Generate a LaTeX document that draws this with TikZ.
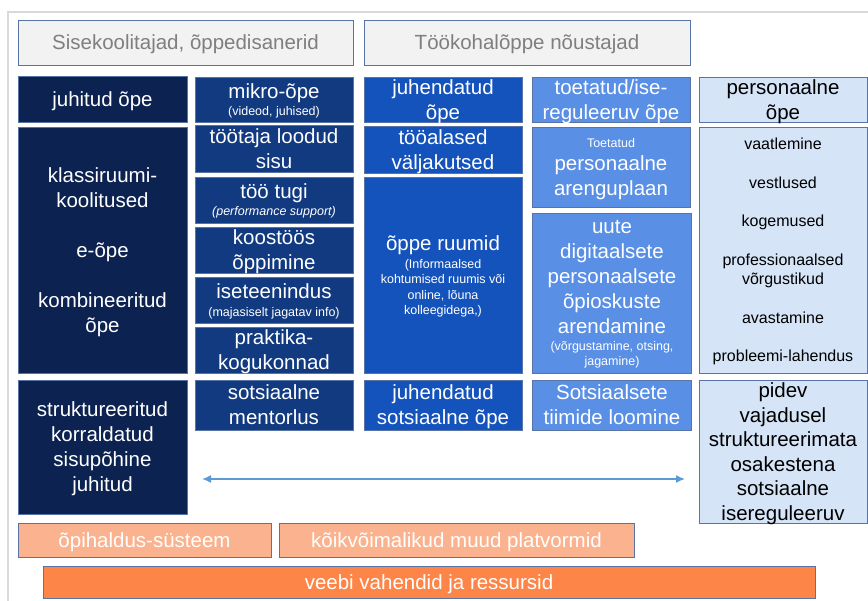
\documentclass[tikz,border=0pt]{standalone}
\usepackage{fontspec}
\setmainfont{Liberation Sans}
\usetikzlibrary{arrows.meta}

\definecolor{navy}{HTML}{0C2250}
\definecolor{colB}{HTML}{123A80}
\definecolor{colC}{HTML}{1553BC}
\definecolor{colD}{HTML}{5A8FE6}
\definecolor{colE}{HTML}{D6E4F8}
\definecolor{peach}{HTML}{FBB28E}
\definecolor{orangebar}{HTML}{FD8547}
\definecolor{edge}{HTML}{5874A6}
\definecolor{arrowblue}{HTML}{5B9BD5}
\definecolor{hdrfill}{HTML}{F2F2F2}
\definecolor{hdrtext}{HTML}{7F7F7F}
\definecolor{framegray}{HTML}{D9D9D9}

\newcommand\smalltxt{\fontsize{12.5}{15}\selectfont}

\begin{document}
\begin{tikzpicture}[x=1pt,y=-1pt,
  sz/.style 2 args={minimum width=#1pt, minimum height=#2pt},
  cell/.style={draw=edge, line width=0.8pt, inner sep=0pt, align=center,
    text depth=-3pt, font=\fontsize{20.5}{25}\selectfont},
  navycell/.style={cell, fill=navy, text=white},
  bcell/.style={cell, fill=colB, text=white},
  ccell/.style={cell, fill=colC, text=white},
  dcell/.style={cell, fill=colD, text=white},
  ecell/.style={cell, fill=colE, text=black},
  hdr/.style={cell, fill=hdrfill, text=hdrtext},
  platform/.style={cell, fill=peach, text=white},
  webbar/.style={cell, fill=orangebar, text=white},
  spanarrow/.style={draw=arrowblue, line width=1.5pt,
    {Latex[length=9pt,width=8pt]}-{Latex[length=9pt,width=8pt]}},
  frameline/.style={draw=framegray, line width=1.5pt}
]
\useasboundingbox (0,0) rectangle (868,601);

% outer frame
\draw[frameline] (8,605) -- (8,12) -- (872,12);

% headers
\node[hdr, sz={335}{45}] (hA) at (185.5,42.5) {Sisekoolitajad, õppedisanerid};
\node[hdr, sz={326}{45}] (hB) at (527,42.5) {Töökohalõppe nõustajad};

% column 1
\node[navycell, sz={169}{46}] (juhitud) at (102.5,99) {juhitud õpe};
\node[navycell, sz={169}{246}] (klass) at (102.5,250)
  {klassiruumi-\\koolitused\\[25pt]e-õpe\\[25pt]kombineeritud\\õpe};
\node[navycell, sz={169}{134}] (strukt) at (102.5,447)
  {struktureeritud\\korraldatud\\sisupõhine\\juhitud};

% column 2
\node[bcell, sz={158}{45}] (mikro) at (274,99.5)
  {mikro-õpe\\[-8pt]{\smalltxt (videod, juhised)}};
\node[bcell, sz={158}{47}] (tootaja) at (274,148.5) {töötaja loodud\\sisu};
\node[bcell, sz={158}{46}] (tugi) at (274,200)
  {töö tugi\\[-8pt]{\smalltxt\itshape (performance support)}};
\node[bcell, sz={158}{46}] (koostoo) at (274,250) {koostöös\\õppimine};
\node[bcell, sz={158}{46}] (isetee) at (274,300)
  {iseteenindus\\[-7pt]{\smalltxt (majasiselt jagatav info)}};
\node[bcell, sz={158}{46}] (praktika) at (274,350) {praktika-\\kogukonnad};
\node[bcell, sz={158}{50}] (mentor) at (274,405) {sotsiaalne\\mentorlus};

% column 3
\node[ccell, sz={158}{45}] (juhend) at (443,99.5) {juhendatud\\õpe};
\node[ccell, sz={158}{47}] (valjak) at (443,149.5) {tööalased\\väljakutsed};
\node[ccell, sz={158}{196}] (ruumid) at (443,275)
  {õppe ruumid\\[-7pt]{\smalltxt (Informaalsed}\\[-9.5pt]{\smalltxt kohtumised ruumis või}\\[-9.5pt]{\smalltxt online, lõuna}\\[-9.5pt]{\smalltxt kolleegidega,)}};
\node[ccell, sz={158}{50}] (jsots) at (443,405) {juhendatud\\sotsiaalne õpe};

% column 4
\node[dcell, sz={158}{45}] (toet) at (611,99.5) {toetatud/ise-\\reguleeruv õpe};
\node[dcell, sz={158}{80}] (arengu) at (611,167)
  {{\smalltxt Toetatud}\\[-2pt]personaalne\\arenguplaan};
\node[dcell, sz={159}{160}] (uute) at (612,293)
  {uute\\digitaalsete\\personaalsete\\õpioskuste\\arendamine\\[-8pt]{\smalltxt (võrgustamine, otsing,}\\[-10pt]{\smalltxt jagamine)}};
\node[dcell, sz={159}{50}] (tiimid) at (612,405) {Sotsiaalsete\\tiimide loomine};

% column 5
\node[ecell, sz={168}{45}] (perso) at (783,99.5) {personaalne\\õpe};
\node[ecell, sz={168}{246}, font=\fontsize{16}{19.3}\selectfont] (viisid) at (783,250)
  {vaatlemine\\[19.3pt]vestlused\\[19.3pt]kogemused\\[19.3pt]professionaalsed\\võrgustikud\\[19.3pt]avastamine\\[19.3pt]probleemi-lahendus};
\node[ecell, sz={168}{143}, font=\fontsize{20.5}{24.5}\selectfont] (pidev) at (783,451.5)
  {pidev\\vajadusel\\struktureerimata\\osakestena\\sotsiaalne\\isereguleeruv};

% two-headed arrow between the two ends of the spectrum
\coordinate (aL) at (202,479);
\coordinate (aR) at (685,479);
\draw[spanarrow] (aL) -- (aR);

% platforms and tools
\node[platform, sz={253}{34}] (lms) at (144.5,540) {õpihaldus-süsteem};
\node[platform, sz={355}{34}] (platv) at (456.5,540) {kõikvõimalikud muud platvormid};
\node[webbar, sz={772}{32}] (veebi) at (429,582) {veebi vahendid ja ressursid};
\end{tikzpicture}
\end{document}
